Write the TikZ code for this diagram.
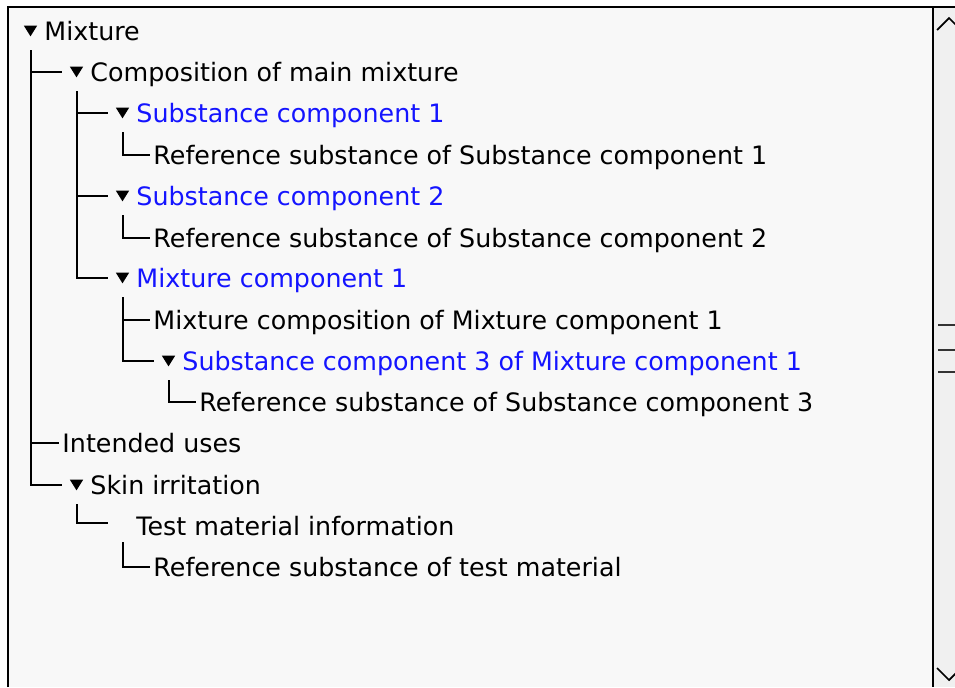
\documentclass[tikz,border=0pt]{standalone}
\usepackage{fontspec}
\setmainfont{DejaVu Sans}

\definecolor{itemblue}{RGB}{20,20,255}
\definecolor{panebg}{RGB}{248,248,248}
\definecolor{barbg}{RGB}{240,240,240}

\begin{document}
\begin{tikzpicture}[x=0.75pt, y=-0.75pt,
    item/.style={anchor=west, inner xsep=2.6pt, inner ysep=0pt, outer sep=0pt, text height=16pt, text depth=2.5pt, font=\fontsize{19}{22}\selectfont},
    subitem/.style={item, text=itemblue},
    toggle/.style={minimum width=10pt, minimum height=8pt, inner sep=0pt, outer xsep=6.25pt, outer ysep=10.5pt,
        path picture={\fill (path picture bounding box.north west) -- (path picture bounding box.north east) -- (path picture bounding box.south) -- cycle;}},
    notoggle/.style={minimum width=10pt, minimum height=8pt, inner sep=0pt, outer xsep=6.25pt, outer ysep=10.5pt},
    branch/.style={draw=black, line width=1.5pt},
]
\useasboundingbox (0,0) rectangle (955,687);

% Pane and scroll bar
\fill[white] (0,0) rectangle (955,687);
\fill[panebg] (8,7) rectangle (955,687);
\fill[barbg] (933,7) rectangle (955,687);
\draw[line width=1.5pt] (8,687) -- (8,7) -- (955,7);
\draw[line width=1.5pt] (933,7) -- (933,687);
\draw[line width=1.3pt] (937,30) -- (949,18) -- (961,30);
\draw[line width=1.3pt] (937,668) -- (949,680) -- (961,668);
\draw[line width=1.3pt, black!80] (938,325) -- (955,325);
\draw[line width=1.3pt, black!80] (938,350) -- (955,350);
\draw[line width=1.3pt, black!80] (938,372) -- (955,372);

% Toggles
\node[toggle] (tMix) at (30.5,31) {};
\node[toggle] (tComp) at (76.5,72) {};
\node[toggle] (tSub1) at (122.5,113) {};
\node[toggle] (tSub2) at (122.5,196) {};
\node[toggle] (tMixc) at (122.5,278) {};
\node[toggle] (tSub3) at (168.5,361) {};
\node[toggle] (tSkin) at (76.5,485) {};
\node[notoggle] (tTest) at (122.5,523) {};

% Items
\node[item] (mix) at (41,31) {Mixture};
\node[item] (comp) at (87,72) {Composition of main mixture};
\node[subitem] (sub1) at (133,113) {Substance component 1};
\node[item] (ref1) at (150,155) {Reference substance of Substance component 1};
\node[subitem] (sub2) at (133,196) {Substance component 2};
\node[item] (ref2) at (150,238) {Reference substance of Substance component 2};
\node[subitem] (mixc) at (133,278) {Mixture component 1};
\node[item] (mixcomp) at (150,320) {Mixture composition of Mixture component 1};
\node[subitem] (sub3) at (179,361) {Substance component 3 of Mixture component 1};
\node[item] (ref3) at (196,402) {Reference substance of Substance component 3};
\node[item] (uses) at (59,443) {Intended uses};
\node[item] (skin) at (87,485) {Skin irritation};
\node[item] (test) at (133,526) {Test material information};
\node[item] (reftest) at (150,567) {Reference substance of test material};

% Branches
\draw[branch] (tMix.south) |- (tComp.west);
\draw[branch] (tMix.south) |- (uses.west);
\draw[branch] (tMix.south) |- (tSkin.west);
\draw[branch] (tComp.south) |- (tSub1.west);
\draw[branch] (tComp.south) |- (tSub2.west);
\draw[branch] (tComp.south) |- (tMixc.west);
\draw[branch] (tSub1.south) |- (ref1.west);
\draw[branch] (tSub2.south) |- (ref2.west);
\draw[branch] (tMixc.south) |- (mixcomp.west);
\draw[branch] (tMixc.south) |- (tSub3.west);
\draw[branch] (tSub3.south) |- (ref3.west);
\draw[branch] (tSkin.south) |- (tTest.west);
\draw[branch] (tTest.south) |- (reftest.west);

\end{tikzpicture}
\end{document}
